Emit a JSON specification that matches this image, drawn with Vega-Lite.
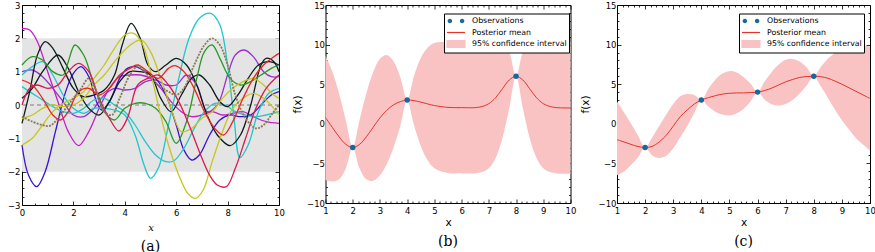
{
"$schema": "https://vega.github.io/schema/vega-lite/v6.json",
"padding": {"left": 7, "top": 1, "right": 0, "bottom": 0},
"background": "white",
"config": {
 "view": {"stroke": null},
 "font": "DejaVu Sans",
 "axis": {"domainColor": "black", "domainWidth": 1, "tickColor": "black", "tickWidth": 0.8, "labelFont": "DejaVu Sans", "labelFontSize": 8.5, "labelColor": "black", "grid": false, "labelFlush": false, "labelOverlap": false, "titleFont": "DejaVu Sans", "titleFontWeight": "normal", "titleFontSize": 10.5, "titleColor": "black", "labelPadding": 2, "titlePadding": 4},
 "axisX": {"labelPadding": 7},
 "axisY": {"labelPadding": 5},
 "title": {"font": "DejaVu Serif", "fontSize": 14, "fontWeight": "normal", "color": "black", "offset": 7}
},
"datasets": {
 "sa": [
  {"s":"mag","x":0,"y":2.3},{"s":"mag","x":0.3,"y":2.25},{"s":"mag","x":0.6,"y":1.9},{"s":"mag","x":1.0,"y":1.0},{"s":"mag","x":1.4,"y":0.1},{"s":"mag","x":1.8,"y":-0.8},{"s":"mag","x":2.2,"y":-1.22},{"s":"mag","x":2.6,"y":-0.8},{"s":"mag","x":3.0,"y":-0.1},{"s":"mag","x":3.4,"y":0.5},{"s":"mag","x":3.8,"y":0.85},{"s":"mag","x":4.2,"y":0.9},{"s":"mag","x":4.6,"y":0.9},{"s":"mag","x":5.0,"y":0.8},{"s":"mag","x":5.4,"y":0.5},{"s":"mag","x":5.8,"y":0.1},{"s":"mag","x":6.2,"y":-0.2},{"s":"mag","x":6.6,"y":-0.35},{"s":"mag","x":7.0,"y":-0.3},{"s":"mag","x":7.4,"y":-0.2},{"s":"mag","x":7.8,"y":-0.3},{"s":"mag","x":8.2,"y":-0.25},{"s":"mag","x":8.6,"y":-0.2},{"s":"mag","x":9.0,"y":-0.35},{"s":"mag","x":9.5,"y":-0.5},{"s":"mag","x":10,"y":-0.55},
  {"s":"pur","x":0,"y":1.0},{"s":"pur","x":0.4,"y":1.05},{"s":"pur","x":0.8,"y":0.85},{"s":"pur","x":1.2,"y":0.5},{"s":"pur","x":1.6,"y":0.1},{"s":"pur","x":2.0,"y":-0.3},{"s":"pur","x":2.4,"y":-0.35},{"s":"pur","x":2.8,"y":-0.1},{"s":"pur","x":3.2,"y":0.3},{"s":"pur","x":3.6,"y":0.5},{"s":"pur","x":4.0,"y":0.45},{"s":"pur","x":4.4,"y":0.5},{"s":"pur","x":4.8,"y":0.7},{"s":"pur","x":5.2,"y":0.75},{"s":"pur","x":5.6,"y":0.6},{"s":"pur","x":6.0,"y":0.6},{"s":"pur","x":6.4,"y":0.9},{"s":"pur","x":6.8,"y":0.6},{"s":"pur","x":7.2,"y":-0.2},{"s":"pur","x":7.6,"y":0.0},{"s":"pur","x":8.0,"y":0.9},{"s":"pur","x":8.3,"y":1.5},{"s":"pur","x":8.65,"y":1.65},{"s":"pur","x":9.0,"y":1.45},{"s":"pur","x":9.4,"y":1.0},{"s":"pur","x":9.7,"y":0.85},{"s":"pur","x":10,"y":0.85},
  {"s":"vio","x":0,"y":-1.2},{"s":"vio","x":0.25,"y":-2.1},{"s":"vio","x":0.57,"y":-2.45},{"s":"vio","x":0.9,"y":-2.0},{"s":"vio","x":1.3,"y":-0.8},{"s":"vio","x":1.7,"y":0.4},{"s":"vio","x":2.0,"y":0.95},{"s":"vio","x":2.3,"y":1.15},{"s":"vio","x":2.6,"y":0.85},{"s":"vio","x":2.9,"y":0.1},{"s":"vio","x":3.1,"y":-0.15},{"s":"vio","x":3.4,"y":0.1},{"s":"vio","x":3.8,"y":0.8},{"s":"vio","x":4.1,"y":1.1},{"s":"vio","x":4.4,"y":1.15},{"s":"vio","x":4.8,"y":1.0},{"s":"vio","x":5.2,"y":0.8},{"s":"vio","x":5.6,"y":0.3},{"s":"vio","x":6.0,"y":-0.6},{"s":"vio","x":6.3,"y":-1.35},{"s":"vio","x":6.6,"y":-1.65},{"s":"vio","x":6.9,"y":-1.5},{"s":"vio","x":7.3,"y":-0.9},{"s":"vio","x":7.7,"y":-0.45},{"s":"vio","x":8.1,"y":-0.3},{"s":"vio","x":8.5,"y":-0.35},{"s":"vio","x":8.9,"y":-0.3},{"s":"vio","x":9.3,"y":0.0},{"s":"vio","x":9.7,"y":0.3},{"s":"vio","x":10,"y":0.4},
  {"s":"cy1","x":0,"y":0.9},{"s":"cy1","x":0.4,"y":1.15},{"s":"cy1","x":0.8,"y":1.3},{"s":"cy1","x":1.2,"y":0.9},{"s":"cy1","x":1.6,"y":0.3},{"s":"cy1","x":2.0,"y":-0.1},{"s":"cy1","x":2.4,"y":-0.25},{"s":"cy1","x":2.8,"y":-0.1},{"s":"cy1","x":3.2,"y":-0.1},{"s":"cy1","x":3.6,"y":-0.15},{"s":"cy1","x":4.0,"y":-0.3},{"s":"cy1","x":4.4,"y":-0.9},{"s":"cy1","x":4.75,"y":-1.8},{"s":"cy1","x":5.0,"y":-2.2},{"s":"cy1","x":5.3,"y":-1.9},{"s":"cy1","x":5.7,"y":-0.6},{"s":"cy1","x":6.1,"y":0.8},{"s":"cy1","x":6.5,"y":2.0},{"s":"cy1","x":6.9,"y":2.6},{"s":"cy1","x":7.35,"y":2.75},{"s":"cy1","x":7.7,"y":2.4},{"s":"cy1","x":8.0,"y":1.2},{"s":"cy1","x":8.25,"y":-0.4},{"s":"cy1","x":8.48,"y":-1.58},{"s":"cy1","x":8.8,"y":-1.2},{"s":"cy1","x":9.2,"y":-0.2},{"s":"cy1","x":9.6,"y":0.35},{"s":"cy1","x":10,"y":0.5},
  {"s":"cy2","x":0,"y":0.55},{"s":"cy2","x":0.4,"y":0.35},{"s":"cy2","x":0.8,"y":0.15},{"s":"cy2","x":1.2,"y":-0.05},{"s":"cy2","x":1.6,"y":-0.2},{"s":"cy2","x":2.0,"y":-0.25},{"s":"cy2","x":2.4,"y":-0.1},{"s":"cy2","x":2.8,"y":0.15},{"s":"cy2","x":3.2,"y":0.2},{"s":"cy2","x":3.6,"y":0.0},{"s":"cy2","x":4.0,"y":-0.2},{"s":"cy2","x":4.4,"y":-0.6},{"s":"cy2","x":4.8,"y":-1.1},{"s":"cy2","x":5.2,"y":-1.5},{"s":"cy2","x":5.6,"y":-1.7},{"s":"cy2","x":5.9,"y":-1.68},{"s":"cy2","x":6.3,"y":-1.3},{"s":"cy2","x":6.7,"y":-0.7},{"s":"cy2","x":7.1,"y":-0.2},{"s":"cy2","x":7.5,"y":0.05},{"s":"cy2","x":7.9,"y":0.0},{"s":"cy2","x":8.3,"y":-0.2},{"s":"cy2","x":8.7,"y":-0.3},{"s":"cy2","x":9.1,"y":-0.35},{"s":"cy2","x":9.5,"y":-0.3},{"s":"cy2","x":10,"y":-0.2},
  {"s":"bk1","x":0,"y":-0.55},{"s":"bk1","x":0.3,"y":0.4},{"s":"bk1","x":0.6,"y":1.5},{"s":"bk1","x":0.9,"y":1.9},{"s":"bk1","x":1.2,"y":1.7},{"s":"bk1","x":1.6,"y":1.1},{"s":"bk1","x":2.0,"y":0.5},{"s":"bk1","x":2.4,"y":0.25},{"s":"bk1","x":2.8,"y":0.3},{"s":"bk1","x":3.2,"y":0.45},{"s":"bk1","x":3.6,"y":0.9},{"s":"bk1","x":3.9,"y":1.8},{"s":"bk1","x":4.25,"y":2.45},{"s":"bk1","x":4.6,"y":2.0},{"s":"bk1","x":4.9,"y":1.2},{"s":"bk1","x":5.2,"y":1.0},{"s":"bk1","x":5.6,"y":1.2},{"s":"bk1","x":6.0,"y":1.4},{"s":"bk1","x":6.4,"y":1.2},{"s":"bk1","x":6.8,"y":0.6},{"s":"bk1","x":7.2,"y":-0.3},{"s":"bk1","x":7.6,"y":-0.9},{"s":"bk1","x":8.1,"y":-1.22},{"s":"bk1","x":8.5,"y":-0.9},{"s":"bk1","x":8.9,"y":0.0},{"s":"bk1","x":9.3,"y":1.2},{"s":"bk1","x":9.5,"y":1.4},{"s":"bk1","x":9.8,"y":1.3},{"s":"bk1","x":10,"y":1.0},
  {"s":"bk2","x":0,"y":0.2},{"s":"bk2","x":0.4,"y":0.5},{"s":"bk2","x":0.8,"y":1.0},{"s":"bk2","x":1.4,"y":1.5},{"s":"bk2","x":1.8,"y":1.1},{"s":"bk2","x":2.2,"y":0.4},{"s":"bk2","x":2.6,"y":-0.1},{"s":"bk2","x":3.0,"y":-0.3},{"s":"bk2","x":3.4,"y":0.1},{"s":"bk2","x":3.8,"y":0.7},{"s":"bk2","x":4.2,"y":1.0},{"s":"bk2","x":4.6,"y":1.0},{"s":"bk2","x":5.0,"y":0.9},{"s":"bk2","x":5.4,"y":0.2},{"s":"bk2","x":5.8,"y":-0.2},{"s":"bk2","x":6.2,"y":0.3},{"s":"bk2","x":6.6,"y":0.8},{"s":"bk2","x":6.9,"y":0.9},{"s":"bk2","x":7.3,"y":0.6},{"s":"bk2","x":7.7,"y":0.1},{"s":"bk2","x":8.0,"y":-0.05},{"s":"bk2","x":8.4,"y":0.3},{"s":"bk2","x":8.8,"y":0.8},{"s":"bk2","x":9.2,"y":1.2},{"s":"bk2","x":9.6,"y":1.3},{"s":"bk2","x":10,"y":1.2},
  {"s":"gr1","x":0,"y":1.2},{"s":"gr1","x":0.4,"y":1.45},{"s":"gr1","x":0.8,"y":1.35},{"s":"gr1","x":1.2,"y":1.0},{"s":"gr1","x":1.6,"y":0.9},{"s":"gr1","x":1.8,"y":1.3},{"s":"gr1","x":2.06,"y":1.8},{"s":"gr1","x":2.4,"y":1.5},{"s":"gr1","x":2.8,"y":0.6},{"s":"gr1","x":3.2,"y":-0.2},{"s":"gr1","x":3.6,"y":-0.45},{"s":"gr1","x":4.0,"y":-0.1},{"s":"gr1","x":4.4,"y":0.05},{"s":"gr1","x":4.8,"y":0.05},{"s":"gr1","x":5.2,"y":-0.1},{"s":"gr1","x":5.6,"y":-0.5},{"s":"gr1","x":6.0,"y":-1.15},{"s":"gr1","x":6.4,"y":-0.5},{"s":"gr1","x":6.8,"y":0.8},{"s":"gr1","x":7.1,"y":1.6},{"s":"gr1","x":7.4,"y":1.8},{"s":"gr1","x":7.7,"y":1.4},{"s":"gr1","x":8.1,"y":0.8},{"s":"gr1","x":8.5,"y":0.6},{"s":"gr1","x":8.9,"y":0.7},{"s":"gr1","x":9.3,"y":0.9},{"s":"gr1","x":9.7,"y":1.1},{"s":"gr1","x":10,"y":1.2},
  {"s":"ye1","x":0,"y":-1.2},{"s":"ye1","x":0.4,"y":-1.0},{"s":"ye1","x":0.8,"y":-0.6},{"s":"ye1","x":1.2,"y":-0.2},{"s":"ye1","x":1.6,"y":0.05},{"s":"ye1","x":2.0,"y":0.2},{"s":"ye1","x":2.4,"y":0.4},{"s":"ye1","x":2.8,"y":0.8},{"s":"ye1","x":3.2,"y":1.2},{"s":"ye1","x":3.6,"y":1.7},{"s":"ye1","x":4.0,"y":2.1},{"s":"ye1","x":4.35,"y":2.15},{"s":"ye1","x":4.7,"y":1.8},{"s":"ye1","x":5.0,"y":1.0},{"s":"ye1","x":5.3,"y":0.0},{"s":"ye1","x":5.7,"y":-1.2},{"s":"ye1","x":6.1,"y":-2.1},{"s":"ye1","x":6.45,"y":-2.65},{"s":"ye1","x":6.75,"y":-2.8},{"s":"ye1","x":7.05,"y":-2.55},{"s":"ye1","x":7.4,"y":-1.7},{"s":"ye1","x":7.8,"y":-0.8},{"s":"ye1","x":8.2,"y":-0.1},{"s":"ye1","x":8.6,"y":0.2},{"s":"ye1","x":9.0,"y":0.35},{"s":"ye1","x":9.4,"y":0.2},{"s":"ye1","x":9.8,"y":-0.1},{"s":"ye1","x":10,"y":-0.3},
  {"s":"ye2","x":0,"y":-0.4},{"s":"ye2","x":0.4,"y":-0.3},{"s":"ye2","x":0.8,"y":-0.1},{"s":"ye2","x":1.2,"y":0.0},{"s":"ye2","x":1.6,"y":-0.05},{"s":"ye2","x":2.0,"y":0.0},{"s":"ye2","x":2.4,"y":0.2},{"s":"ye2","x":2.8,"y":0.6},{"s":"ye2","x":3.2,"y":0.9},{"s":"ye2","x":3.6,"y":1.3},{"s":"ye2","x":4.0,"y":1.65},{"s":"ye2","x":4.3,"y":1.85},{"s":"ye2","x":4.65,"y":1.95},{"s":"ye2","x":5.0,"y":1.6},{"s":"ye2","x":5.4,"y":0.8},{"s":"ye2","x":5.8,"y":-0.1},{"s":"ye2","x":6.2,"y":-0.8},{"s":"ye2","x":6.6,"y":-0.7},{"s":"ye2","x":7.0,"y":-0.4},{"s":"ye2","x":7.4,"y":-0.2},{"s":"ye2","x":7.8,"y":0.2},{"s":"ye2","x":8.2,"y":0.5},{"s":"ye2","x":8.6,"y":0.7},{"s":"ye2","x":9.0,"y":0.8},{"s":"ye2","x":9.4,"y":0.6},{"s":"ye2","x":9.8,"y":0.3},{"s":"ye2","x":10,"y":0.2},
  {"s":"re1","x":0,"y":0.75},{"s":"re1","x":0.4,"y":0.6},{"s":"re1","x":0.8,"y":0.2},{"s":"re1","x":1.2,"y":-0.3},{"s":"re1","x":1.5,"y":-0.45},{"s":"re1","x":1.8,"y":-0.2},{"s":"re1","x":2.2,"y":0.4},{"s":"re1","x":2.6,"y":0.5},{"s":"re1","x":3.0,"y":0.3},{"s":"re1","x":3.4,"y":0.5},{"s":"re1","x":3.8,"y":0.9},{"s":"re1","x":4.2,"y":1.1},{"s":"re1","x":4.5,"y":1.2},{"s":"re1","x":4.9,"y":1.0},{"s":"re1","x":5.3,"y":0.8},{"s":"re1","x":5.7,"y":1.1},{"s":"re1","x":5.95,"y":1.18},{"s":"re1","x":6.3,"y":1.0},{"s":"re1","x":6.7,"y":0.5},{"s":"re1","x":7.1,"y":-0.2},{"s":"re1","x":7.5,"y":-0.7},{"s":"re1","x":7.84,"y":-0.9},{"s":"re1","x":8.2,"y":-0.5},{"s":"re1","x":8.6,"y":0.2},{"s":"re1","x":9.0,"y":0.8},{"s":"re1","x":9.4,"y":1.2},{"s":"re1","x":9.8,"y":1.45},{"s":"re1","x":10,"y":1.55},
  {"s":"re2","x":0,"y":0.0},{"s":"re2","x":0.3,"y":0.5},{"s":"re2","x":0.6,"y":0.6},{"s":"re2","x":1.0,"y":0.5},{"s":"re2","x":1.4,"y":0.6},{"s":"re2","x":1.8,"y":1.0},{"s":"re2","x":2.2,"y":1.25},{"s":"re2","x":2.6,"y":1.0},{"s":"re2","x":3.0,"y":0.2},{"s":"re2","x":3.4,"y":-0.4},{"s":"re2","x":3.77,"y":-0.78},{"s":"re2","x":4.1,"y":-0.4},{"s":"re2","x":4.5,"y":0.6},{"s":"re2","x":4.9,"y":0.8},{"s":"re2","x":5.3,"y":0.9},{"s":"re2","x":5.7,"y":0.6},{"s":"re2","x":6.1,"y":0.1},{"s":"re2","x":6.5,"y":-0.6},{"s":"re2","x":6.9,"y":-1.4},{"s":"re2","x":7.3,"y":-2.1},{"s":"re2","x":7.6,"y":-2.4},{"s":"re2","x":7.95,"y":-2.45},{"s":"re2","x":8.3,"y":-1.9},{"s":"re2","x":8.7,"y":-1.0},{"s":"re2","x":9.1,"y":-0.1},{"s":"re2","x":9.5,"y":0.5},{"s":"re2","x":10,"y":0.9},
  {"s":"br","x":0,"y":-0.35},{"s":"br","x":0.4,"y":-0.5},{"s":"br","x":0.8,"y":-0.6},{"s":"br","x":1.1,"y":-0.62},{"s":"br","x":1.5,"y":-0.3},{"s":"br","x":1.9,"y":0.1},{"s":"br","x":2.3,"y":0.5},{"s":"br","x":2.6,"y":0.8},{"s":"br","x":2.9,"y":0.4},{"s":"br","x":3.2,"y":-0.2},{"s":"br","x":3.5,"y":-0.3},{"s":"br","x":3.8,"y":0.2},{"s":"br","x":4.2,"y":0.9},{"s":"br","x":4.5,"y":1.15},{"s":"br","x":4.9,"y":0.9},{"s":"br","x":5.3,"y":0.6},{"s":"br","x":5.7,"y":0.4},{"s":"br","x":6.0,"y":0.3},{"s":"br","x":6.3,"y":0.5},{"s":"br","x":6.7,"y":1.2},{"s":"br","x":7.1,"y":1.8},{"s":"br","x":7.4,"y":2.0},{"s":"br","x":7.7,"y":1.8},{"s":"br","x":8.0,"y":1.2},{"s":"br","x":8.3,"y":0.3},{"s":"br","x":8.7,"y":-0.4},{"s":"br","x":9.1,"y":-0.7},{"s":"br","x":9.4,"y":-0.6},{"s":"br","x":9.7,"y":-0.3},{"s":"br","x":10,"y":0.0}
 ],
 "pb": [
  {"x":1.0,"m":0.8,"lo":-7.1,"hi":8.6},{"x":1.25,"m":-0.45,"lo":-7.3,"hi":6.6},{"x":1.5,"m":-1.65,"lo":-7.0,"hi":3.8},{"x":1.75,"m":-2.6,"lo":-5.6,"hi":0.4},{"x":2.0,"m":-3,"lo":-3,"hi":-3},{"x":2.25,"m":-2.6,"lo":-5.6,"hi":0.45},{"x":2.5,"m":-1.65,"lo":-7.0,"hi":3.85},{"x":2.75,"m":-0.45,"lo":-7.2,"hi":6.5},{"x":3.0,"m":0.75,"lo":-6.5,"hi":8.2},{"x":3.25,"m":1.7,"lo":-5.1,"hi":8.7},{"x":3.5,"m":2.4,"lo":-3.0,"hi":7.9},{"x":3.75,"m":2.8,"lo":-0.25,"hi":5.85},{"x":4.0,"m":3,"lo":3,"hi":3},{"x":4.25,"m":2.92,"lo":-0.15,"hi":6.0},{"x":4.5,"m":2.74,"lo":-2.8,"hi":8.3},{"x":4.75,"m":2.51,"lo":-4.6,"hi":9.6},{"x":5.0,"m":2.31,"lo":-5.6,"hi":10.2},{"x":5.5,"m":2.07,"lo":-6.2,"hi":10.35},{"x":6.0,"m":2.04,"lo":-6.26,"hi":10.34},{"x":6.5,"m":2.04,"lo":-6.26,"hi":10.34},{"x":6.75,"m":2.18,"lo":-6.1,"hi":10.46},{"x":7.0,"m":2.54,"lo":-5.61,"hi":10.69},{"x":7.25,"m":3.3,"lo":-4.32,"hi":10.92},{"x":7.5,"m":4.43,"lo":-1.8,"hi":10.66},{"x":7.75,"m":5.53,"lo":1.95,"hi":9.11},{"x":8.0,"m":6,"lo":6,"hi":6},{"x":8.25,"m":5.53,"lo":1.95,"hi":9.11},{"x":8.5,"m":4.43,"lo":-1.8,"hi":10.66},{"x":8.75,"m":3.3,"lo":-4.32,"hi":10.92},{"x":9.0,"m":2.54,"lo":-5.61,"hi":10.69},{"x":9.25,"m":2.18,"lo":-6.1,"hi":10.46},{"x":9.5,"m":2.04,"lo":-6.26,"hi":10.34},{"x":10,"m":2.0,"lo":-6.3,"hi":10.3}
 ],
 "ob": [{"x":2,"y":-3},{"x":4,"y":3},{"x":8,"y":6}],
 "pc": [
  {"x":1.0,"m":-2.0,"lo":-6.5,"hi":2.8},{"x":1.25,"m":-2.3,"lo":-6.03,"hi":1.43},{"x":1.5,"m":-2.6,"lo":-5.21,"hi":0.01},{"x":1.75,"m":-2.87,"lo":-4.22,"hi":-1.52},{"x":2.0,"m":-3,"lo":-3,"hi":-3},{"x":2.25,"m":-2.85,"lo":-3.98,"hi":-1.72},{"x":2.5,"m":-2.3,"lo":-4.32,"hi":-0.28},{"x":2.75,"m":-1.45,"lo":-4.04,"hi":1.14},{"x":3.0,"m":-0.3,"lo":-3.1,"hi":2.5},{"x":3.25,"m":0.9,"lo":-1.69,"hi":3.49},{"x":3.5,"m":1.75,"lo":-0.27,"hi":3.77},{"x":3.75,"m":2.5,"lo":1.37,"hi":3.63},{"x":4.0,"m":3,"lo":3,"hi":3},{"x":4.25,"m":3.3,"lo":2.17,"hi":4.43},{"x":4.5,"m":3.55,"lo":1.53,"hi":5.57},{"x":4.75,"m":3.75,"lo":1.16,"hi":6.34},{"x":5.0,"m":3.85,"lo":1.05,"hi":6.65},{"x":5.25,"m":3.9,"lo":1.31,"hi":6.49},{"x":5.5,"m":3.9,"lo":1.88,"hi":5.92},{"x":5.75,"m":3.95,"lo":2.82,"hi":5.08},{"x":6.0,"m":4,"lo":4,"hi":4},{"x":6.25,"m":4.2,"lo":3.07,"hi":5.33},{"x":6.5,"m":4.5,"lo":2.48,"hi":6.52},{"x":6.75,"m":4.9,"lo":2.31,"hi":7.49},{"x":7.0,"m":5.3,"lo":2.5,"hi":8.1},{"x":7.25,"m":5.6,"lo":3.01,"hi":8.19},{"x":7.5,"m":5.85,"lo":3.83,"hi":7.87},{"x":7.75,"m":5.97,"lo":4.84,"hi":7.1},{"x":8.0,"m":6,"lo":6,"hi":6},{"x":8.25,"m":5.95,"lo":4.73,"hi":7.17},{"x":8.5,"m":5.75,"lo":3.3,"hi":8.2},{"x":8.75,"m":5.4,"lo":1.82,"hi":8.98},{"x":9.0,"m":5.0,"lo":0.45,"hi":9.55},{"x":9.25,"m":4.55,"lo":-0.7,"hi":9.8},{"x":9.5,"m":4.1,"lo":-1.81,"hi":10.01},{"x":9.75,"m":3.65,"lo":-2.6,"hi":9.9},{"x":10,"m":3.2,"lo":-3.38,"hi":9.78}
 ],
 "oc": [{"x":2,"y":-3},{"x":4,"y":3},{"x":6,"y":4},{"x":8,"y":6}],
 "leg": [{"series":"Observations"},{"series":"Posterior mean"},{"series":"95% confidence interval"}]
},
"bounds": "flush",
"spacing": 46.5,
"resolve": {"scale": {"color": "independent", "fill": "independent", "stroke": "independent", "shape": "independent"}, "legend": {"color": "independent", "fill": "independent", "stroke": "independent", "shape": "independent"}},
"hconcat": [
 {
  "width": 257, "height": 200,
  "title": {"text": "(a)", "orient": "bottom"},
  "layer": [
   {"data": {"values": [{"x0": 0, "x1": 10, "lo": -2, "hi": 2}]},
    "mark": {"type": "rect", "color": "#e4e4e4"},
    "encoding": {
     "x": {"field": "x0", "type": "quantitative", "scale": {"domain": [0, 10], "nice": false, "zero": false},
       "axis": {"orient": "bottom", "labelOverlap": false, "values": [0,0.5,1,1.5,2,2.5,3,3.5,4,4.5,5,5.5,6,6.5,7,7.5,8,8.5,9,9.5,10], "labelExpr": "datum.value % 2 == 0 ? format(datum.value, 'd') : ''", "tickSize": {"condition": {"test": "datum.value % 2 == 0", "value": -4}, "value": -2}, "title": "x", "titleFont": "DejaVu Serif", "titleFontStyle": "italic", "titleFontSize": 10}},
     "x2": {"field": "x1"},
     "y": {"field": "lo", "type": "quantitative", "scale": {"domain": [-3, 3], "nice": false, "zero": false},
       "axis": {"orient": "left", "labelOverlap": false, "labelPadding": 6, "values": [-3,-2.75,-2.5,-2.25,-2,-1.75,-1.5,-1.25,-1,-0.75,-0.5,-0.25,0,0.25,0.5,0.75,1,1.25,1.5,1.75,2,2.25,2.5,2.75,3], "labelExpr": "datum.value % 1 == 0 ? format(datum.value, 'd') : ''", "tickSize": {"condition": {"test": "datum.value % 1 == 0", "value": -4}, "value": -2}, "title": null}},
     "y2": {"field": "hi"}
    }},
   {"data": {"values": [{"z": 0}]},
    "mark": {"type": "rule", "color": "#7a7a7a", "strokeDash": [4, 3], "strokeWidth": 1},
    "encoding": {"y": {"field": "z", "type": "quantitative",
       "axis": {"orient": "right", "values": [-3,-2.75,-2.5,-2.25,-2,-1.75,-1.5,-1.25,-1,-0.75,-0.5,-0.25,0,0.25,0.5,0.75,1,1.25,1.5,1.75,2,2.25,2.5,2.75,3], "labels": false, "tickSize": {"condition": {"test": "datum.value % 1 == 0", "value": -4}, "value": -2}, "title": null}}}},
   {"data": {"name": "sa"},
    "transform": [{"filter": "datum.s != 'br'"}],
    "mark": {"type": "line", "strokeWidth": 1.3, "interpolate": "catmull-rom"},
    "encoding": {
     "x": {"field": "x", "type": "quantitative",
       "axis": {"orient": "top", "values": [0,0.5,1,1.5,2,2.5,3,3.5,4,4.5,5,5.5,6,6.5,7,7.5,8,8.5,9,9.5,10], "labels": false, "tickSize": {"condition": {"test": "datum.value % 2 == 0", "value": -4}, "value": -2}, "title": null}},
     "y": {"field": "y", "type": "quantitative", "axis": null},
     "color": {"field": "s", "type": "nominal", "legend": null,
       "scale": {"domain": ["mag","pur","vio","cy1","cy2","bk1","bk2","gr1","ye1","ye2","re1","re2","br"], "range": ["#c41fc4","#9a30d0","#3a12d0","#20c6cc","#20c6cc","#0d1d1d","#0d1d1d","#259a25","#c6c61c","#c6c61c","#ee2222","#d81b4f","#8a7a55"]}}
    }},
   {"data": {"name": "sa"},
    "transform": [{"filter": "datum.s == 'br'"}],
    "mark": {"type": "line", "strokeWidth": 1.8, "color": "#8a7a55", "strokeDash": [2, 1.2], "interpolate": "catmull-rom"},
    "encoding": {
     "x": {"field": "x", "type": "quantitative", "axis": null},
     "y": {"field": "y", "type": "quantitative", "axis": null}
    }}
  ],
  "resolve": {"axis": {"x": "independent", "y": "independent"}}
 },
 {
  "width": 245, "height": 198,
  "title": {"text": "(b)", "orient": "bottom"},
  "layer": [
   {"data": {"name": "pb"},
    "mark": {"type": "area", "color": "#f9c3c3", "interpolate": "catmull-rom"},
    "encoding": {
     "x": {"field": "x", "type": "quantitative", "scale": {"domain": [1, 10], "nice": false, "zero": false},
       "axis": {"orient": "bottom", "labelOverlap": false, "titlePadding": 1, "values": [1,1.2,1.4,1.6,1.8,2,2.2,2.4,2.6,2.8,3,3.2,3.4,3.6,3.8,4,4.2,4.4,4.6,4.8,5,5.2,5.4,5.6,5.8,6,6.2,6.4,6.6,6.8,7,7.2,7.4,7.6,7.8,8,8.2,8.4,8.6,8.8,9,9.2,9.4,9.6,9.8,10], "labelExpr": "abs(datum.value - round(datum.value)) < 0.001 ? format(datum.value, 'd') : ''", "tickSize": {"condition": {"test": "abs(datum.value - round(datum.value)) < 0.001", "value": -4}, "value": -2}, "title": "x"}},
     "y": {"field": "lo", "type": "quantitative", "scale": {"domain": [-10, 15], "nice": false, "zero": false},
       "axis": {"orient": "left", "labelOverlap": false, "values": [-10,-9,-8,-7,-6,-5,-4,-3,-2,-1,0,1,2,3,4,5,6,7,8,9,10,11,12,13,14,15], "labelExpr": "abs(datum.value % 5) < 0.001 ? format(datum.value, 'd') : ''", "tickSize": {"condition": {"test": "abs(datum.value % 5) < 0.001", "value": -4}, "value": -2}, "title": "f(x)"}},
     "y2": {"field": "hi"}
    }},
   {"data": {"name": "pb"},
    "mark": {"type": "line", "color": "#e3342b", "strokeWidth": 1, "interpolate": "catmull-rom"},
    "encoding": {
     "x": {"field": "x", "type": "quantitative",
       "axis": {"orient": "top", "values": [1,1.2,1.4,1.6,1.8,2,2.2,2.4,2.6,2.8,3,3.2,3.4,3.6,3.8,4,4.2,4.4,4.6,4.8,5,5.2,5.4,5.6,5.8,6,6.2,6.4,6.6,6.8,7,7.2,7.4,7.6,7.8,8,8.2,8.4,8.6,8.8,9,9.2,9.4,9.6,9.8,10], "labels": false, "tickSize": {"condition": {"test": "abs(datum.value - round(datum.value)) < 0.001", "value": -4}, "value": -2}, "title": null}},
     "y": {"field": "m", "type": "quantitative",
       "axis": {"orient": "right", "values": [-10,-9,-8,-7,-6,-5,-4,-3,-2,-1,0,1,2,3,4,5,6,7,8,9,10,11,12,13,14,15], "labels": false, "tickSize": {"condition": {"test": "abs(datum.value % 5) < 0.001", "value": -4}, "value": -2}, "title": null}}
    }},
   {"data": {"name": "ob"},
    "mark": {"type": "circle", "color": "#15699c", "size": 30, "opacity": 1},
    "encoding": {
     "x": {"field": "x", "type": "quantitative", "axis": null},
     "y": {"field": "y", "type": "quantitative", "axis": null}
    }},
   {"data": {"name": "leg"},
    "mark": {"type": "point", "opacity": 1, "strokeWidth": 1.2},
    "encoding": {
     "x": {"field": "x", "type": "quantitative", "axis": null},
     "y": {"field": "y", "type": "quantitative", "axis": null},
     "shape": {"field": "series", "type": "nominal", "scale": {"domain": ["Observations", "Posterior mean", "95% confidence interval"], "range": ["M-0.86,0a0.5,0.5 0 1,0 1,0a0.5,0.5 0 1,0 -1,0M1.86,0a0.5,0.5 0 1,0 1,0a0.5,0.5 0 1,0 -1,0", "M-1,0L3,0", "M-1,-0.75L3,-0.75L3,0.75L-1,0.75Z"]},
       "legend": {"title": null, "orient": "none", "legendX": 118.5, "legendY": 8.5, "padding": 2, "fillColor": "white", "strokeColor": "black", "cornerRadius": 0, "labelFont": "DejaVu Sans", "labelFontSize": 7.8, "labelColor": "black", "symbolSize": 81, "symbolStrokeWidth": 1.2, "labelOffset": 15, "rowPadding": 0.5, "symbolOpacity": 1}},
     "fill": {"field": "series", "type": "nominal", "scale": {"domain": ["Observations", "Posterior mean", "95% confidence interval"], "range": ["#15699c", "transparent", "#f9c3c3"]},
       "legend": {"title": null, "orient": "none", "legendX": 118.5, "legendY": 8.5, "padding": 2, "fillColor": "white", "strokeColor": "black", "cornerRadius": 0, "labelFont": "DejaVu Sans", "labelFontSize": 7.8, "labelColor": "black", "symbolSize": 81, "symbolStrokeWidth": 1.2, "labelOffset": 15, "rowPadding": 0.5, "symbolOpacity": 1}},
     "stroke": {"field": "series", "type": "nominal", "scale": {"domain": ["Observations", "Posterior mean", "95% confidence interval"], "range": ["transparent", "#e3342b", "#f9c3c3"]},
       "legend": {"title": null, "orient": "none", "legendX": 118.5, "legendY": 8.5, "padding": 2, "fillColor": "white", "strokeColor": "black", "cornerRadius": 0, "labelFont": "DejaVu Sans", "labelFontSize": 7.8, "labelColor": "black", "symbolSize": 81, "symbolStrokeWidth": 1.2, "labelOffset": 15, "rowPadding": 0.5, "symbolOpacity": 1}}
    }}
  ],
  "resolve": {"axis": {"x": "independent", "y": "independent"}}
 },
 {
  "width": 253, "height": 198,
  "title": {"text": "(c)", "orient": "bottom"},
  "layer": [
   {"data": {"name": "pc"},
    "mark": {"type": "area", "color": "#f9c3c3", "interpolate": "catmull-rom"},
    "encoding": {
     "x": {"field": "x", "type": "quantitative", "scale": {"domain": [1, 10], "nice": false, "zero": false},
       "axis": {"orient": "bottom", "labelOverlap": false, "titlePadding": 1, "values": [1,1.2,1.4,1.6,1.8,2,2.2,2.4,2.6,2.8,3,3.2,3.4,3.6,3.8,4,4.2,4.4,4.6,4.8,5,5.2,5.4,5.6,5.8,6,6.2,6.4,6.6,6.8,7,7.2,7.4,7.6,7.8,8,8.2,8.4,8.6,8.8,9,9.2,9.4,9.6,9.8,10], "labelExpr": "abs(datum.value - round(datum.value)) < 0.001 ? format(datum.value, 'd') : ''", "tickSize": {"condition": {"test": "abs(datum.value - round(datum.value)) < 0.001", "value": -4}, "value": -2}, "title": "x"}},
     "y": {"field": "lo", "type": "quantitative", "scale": {"domain": [-10, 15], "nice": false, "zero": false},
       "axis": {"orient": "left", "labelOverlap": false, "titlePadding": 8, "values": [-10,-9,-8,-7,-6,-5,-4,-3,-2,-1,0,1,2,3,4,5,6,7,8,9,10,11,12,13,14,15], "labelExpr": "abs(datum.value % 5) < 0.001 ? format(datum.value, 'd') : ''", "tickSize": {"condition": {"test": "abs(datum.value % 5) < 0.001", "value": -4}, "value": -2}, "title": "f(x)"}},
     "y2": {"field": "hi"}
    }},
   {"data": {"name": "pc"},
    "mark": {"type": "line", "color": "#e3342b", "strokeWidth": 1, "interpolate": "catmull-rom"},
    "encoding": {
     "x": {"field": "x", "type": "quantitative",
       "axis": {"orient": "top", "values": [1,1.2,1.4,1.6,1.8,2,2.2,2.4,2.6,2.8,3,3.2,3.4,3.6,3.8,4,4.2,4.4,4.6,4.8,5,5.2,5.4,5.6,5.8,6,6.2,6.4,6.6,6.8,7,7.2,7.4,7.6,7.8,8,8.2,8.4,8.6,8.8,9,9.2,9.4,9.6,9.8,10], "labels": false, "tickSize": {"condition": {"test": "abs(datum.value - round(datum.value)) < 0.001", "value": -4}, "value": -2}, "title": null}},
     "y": {"field": "m", "type": "quantitative",
       "axis": {"orient": "right", "values": [-10,-9,-8,-7,-6,-5,-4,-3,-2,-1,0,1,2,3,4,5,6,7,8,9,10,11,12,13,14,15], "labels": false, "tickSize": {"condition": {"test": "abs(datum.value % 5) < 0.001", "value": -4}, "value": -2}, "title": null}}
    }},
   {"data": {"name": "oc"},
    "mark": {"type": "circle", "color": "#15699c", "size": 30, "opacity": 1},
    "encoding": {
     "x": {"field": "x", "type": "quantitative", "axis": null},
     "y": {"field": "y", "type": "quantitative", "axis": null}
    }},
   {"data": {"name": "leg"},
    "mark": {"type": "point", "opacity": 1, "strokeWidth": 1.2},
    "encoding": {
     "x": {"field": "x", "type": "quantitative", "axis": null},
     "y": {"field": "y", "type": "quantitative", "axis": null},
     "shape": {"field": "series", "type": "nominal", "scale": {"domain": ["Observations", "Posterior mean", "95% confidence interval"], "range": ["M-0.86,0a0.5,0.5 0 1,0 1,0a0.5,0.5 0 1,0 -1,0M1.86,0a0.5,0.5 0 1,0 1,0a0.5,0.5 0 1,0 -1,0", "M-1,0L3,0", "M-1,-0.75L3,-0.75L3,0.75L-1,0.75Z"]},
       "legend": {"title": null, "orient": "none", "legendX": 122, "legendY": 8.5, "padding": 2, "fillColor": "white", "strokeColor": "black", "cornerRadius": 0, "labelFont": "DejaVu Sans", "labelFontSize": 7.8, "labelColor": "black", "symbolSize": 81, "symbolStrokeWidth": 1.2, "labelOffset": 15, "rowPadding": 0.5, "symbolOpacity": 1}},
     "fill": {"field": "series", "type": "nominal", "scale": {"domain": ["Observations", "Posterior mean", "95% confidence interval"], "range": ["#15699c", "transparent", "#f9c3c3"]},
       "legend": {"title": null, "orient": "none", "legendX": 122, "legendY": 8.5, "padding": 2, "fillColor": "white", "strokeColor": "black", "cornerRadius": 0, "labelFont": "DejaVu Sans", "labelFontSize": 7.8, "labelColor": "black", "symbolSize": 81, "symbolStrokeWidth": 1.2, "labelOffset": 15, "rowPadding": 0.5, "symbolOpacity": 1}},
     "stroke": {"field": "series", "type": "nominal", "scale": {"domain": ["Observations", "Posterior mean", "95% confidence interval"], "range": ["transparent", "#e3342b", "#f9c3c3"]},
       "legend": {"title": null, "orient": "none", "legendX": 122, "legendY": 8.5, "padding": 2, "fillColor": "white", "strokeColor": "black", "cornerRadius": 0, "labelFont": "DejaVu Sans", "labelFontSize": 7.8, "labelColor": "black", "symbolSize": 81, "symbolStrokeWidth": 1.2, "labelOffset": 15, "rowPadding": 0.5, "symbolOpacity": 1}}
    }}
  ],
  "resolve": {"axis": {"x": "independent", "y": "independent"}}
 }
]
}
